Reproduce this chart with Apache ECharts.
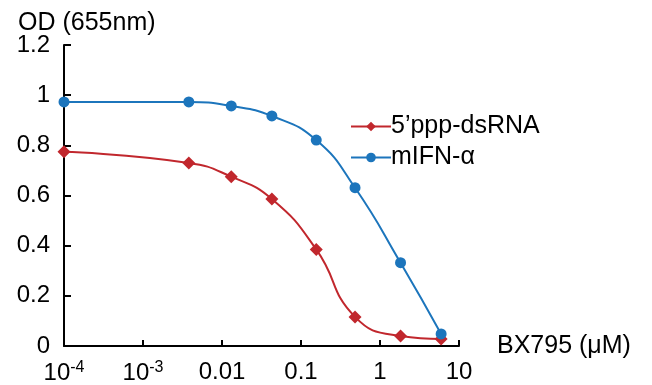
<!DOCTYPE html>
<html>
<head>
<meta charset="utf-8">
<script src="https://cdn.jsdelivr.net/npm/echarts@6/dist/echarts.min.js"></script>
<style>
  html, body { margin: 0; padding: 0; background: #fff; }
  #chart { width: 652px; height: 385px; }
</style>
</head>
<body>
<div id="chart"></div>
<script>
// concentrations of BX795 (uM); the first point sits on the axis start (no drug)
const conc = [0.0001, 0.0038, 0.0131, 0.0428, 0.156, 0.483, 1.82, 5.94];
const dsRNA = [0.774, 0.730, 0.675, 0.586, 0.385, 0.116, 0.040, 0.028];
const ifnA = [0.973, 0.973, 0.957, 0.917, 0.821, 0.631, 0.332, 0.048];

const seriesNames = ['5\u2019ppp-dsRNA', 'mIFN-\u03b1'];
const xTickLabels = { '-4': '10{sup|-4}', '-3': '10{sup|-3}', '-2': '0.01', '-1': '0.1', '0': '1', '1': '10' };
const yTickLabels = ['0', '0.2', '0.4', '0.6', '0.8', '1', '1.2'];

const font = '"Liberation Sans", Arial, sans-serif';
const red = '#C1272D';
const blue = '#1C75BC';

const chart = echarts.init(document.getElementById('chart'));

const pairs = (ys) => conc.map((c, i) => [c, ys[i]]);

chart.setOption({
  animation: false,
  textStyle: { fontFamily: font, color: '#000' },
  title: {
    text: 'OD (655nm)',
    left: 13,
    top: 6,
    textStyle: { fontFamily: font, fontSize: 25, fontWeight: 'normal', color: '#000' }
  },
  grid: { left: 64, right: 193, top: 45, bottom: 39, containLabel: false },
  legend: {
    orient: 'vertical',
    left: 345,
    top: 109,
    itemWidth: 40,
    itemHeight: 12,
    itemGap: 6,
    textStyle: { fontFamily: font, fontSize: 25, lineHeight: 25, color: '#000', padding: [0, 0, 0, -5] },
    data: seriesNames
  },
  xAxis: {
    type: 'log',
    logBase: 10,
    min: 0.0001,
    max: 10,
    name: 'BX795 (\u03bcM)',
    nameLocation: 'end',
    nameGap: 38,
    nameTextStyle: { fontFamily: font, fontSize: 25, color: '#000', verticalAlign: 'middle', padding: [0, 0, 12, 0] },
    axisLine: { lineStyle: { color: '#000', width: 2 } },
    axisTick: { inside: true, length: 6, lineStyle: { color: '#000', width: 2 } },
    splitLine: { show: false },
    minorTick: { show: false },
    axisLabel: {
      margin: 14,
      fontFamily: font,
      fontSize: 24,
      color: '#000',
      formatter: (v) => xTickLabels[String(Math.round(Math.log10(v)))] || '',
      rich: {
        sup: { fontFamily: font, fontSize: 16, color: '#000', verticalAlign: 'top', padding: [0, 0, 10, 0] }
      }
    }
  },
  yAxis: {
    type: 'value',
    min: 0,
    max: 1.2,
    interval: 0.2,
    axisLine: { show: true, lineStyle: { color: '#000', width: 2 } },
    axisTick: { show: true, inside: true, length: 7, lineStyle: { color: '#000', width: 2 } },
    splitLine: { show: false },
    axisLabel: {
      margin: 14,
      fontFamily: font,
      fontSize: 24,
      color: '#000',
      formatter: (v) => yTickLabels[Math.round(v / 0.2)]
    }
  },
  series: [
    {
      name: seriesNames[0],
      type: 'line',
      data: pairs(dsRNA),
      smooth: 0.5,
      symbol: 'diamond',
      symbolSize: 13,
      itemStyle: { color: red },
      lineStyle: { color: red, width: 2 }
    },
    {
      name: seriesNames[1],
      type: 'line',
      data: pairs(ifnA),
      smooth: 0.5,
      symbol: 'circle',
      symbolSize: 11,
      itemStyle: { color: blue },
      lineStyle: { color: blue, width: 2 }
    }
  ]
});
</script>
</body>
</html>
